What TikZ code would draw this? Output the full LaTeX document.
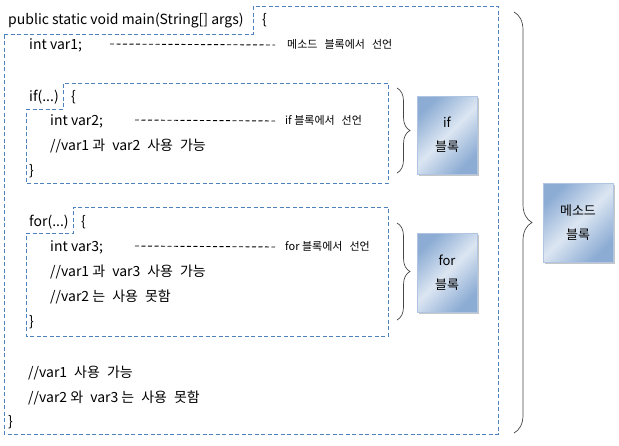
\documentclass[tikz,border=0pt]{standalone}
\usepackage{fontspec}
\setmainfont{Noto Sans CJK KR}
\definecolor{frameblue}{RGB}{79, 129, 189}
\definecolor{blklight}{RGB}{220, 230, 242}
\definecolor{blkdark}{RGB}{140, 172, 212}
\definecolor{bracegray}{RGB}{70, 70, 70}
\usetikzlibrary{shadows, decorations.pathreplacing, calc}
\newcommand{\wsp}{\hspace{7pt}}

\begin{document}
\begin{tikzpicture}[x=1pt, y=-1pt,
  code/.style={anchor=west, inner sep=0pt, font=\fontsize{14}{16}\selectfont, text height=11pt, text depth=3pt},
  decl/.style={anchor=west, inner sep=0pt, font=\fontsize{11}{13}\selectfont, text height=9pt, text depth=2pt},
  frame/.style={draw=frameblue, line width=0.9pt, dash pattern=on 4pt off 2.5pt},
  leader/.style={draw=black, line width=0.9pt, dash pattern=on 4pt off 2.5pt},
  blk/.style={draw=blkdark!70, align=center, font=\fontsize{13}{15}\selectfont,
    left color=blkdark, right color=blkdark, middle color=blklight, shading angle=45,
    drop shadow={shadow xshift=2pt, shadow yshift=-2pt, opacity=0.45}},
  brc/.style={draw=bracegray, line width=0.7pt, decorate, decoration={brace, amplitude=#1}}
]
  \useasboundingbox (0,0) rectangle (619,445);

  % dashed block frames
  \draw[frame] (4,34) -- (253,34) -- (253,6) -- (498,6) -- (498,434) -- (4,434) -- cycle;
  \draw[frame] (26,109) -- (63,109) -- (63,83) -- (388,83) -- (388,183) -- (26,183) -- cycle;
  \draw[frame] (26,233) -- (73,233) -- (73,207) -- (388,207) -- (388,336) -- (26,336) -- cycle;

  % method block
  \node[code] (main) at (8,20) {public static void main(String[] args)};
  \node[code] (mopen) at (262,20) {\{};
  \node[code] (var1) at (29,45) {int var1;};
  \node[decl] (decl1) at (287,45) {메소드\wsp 블록에서\wsp 선언};
  \coordinate (lead1) at (110,44);
  \draw[leader] (lead1) -- ([xshift=-12pt]decl1.west);

  % if block
  \node[code] (ifhead) at (29,97) {if(...)};
  \node[code] (ifopen) at (71,97) {\{};
  \node[code] (var2) at (50,121) {int var2;};
  \node[decl] (decl2) at (285,121) {if 블록에서\wsp 선언};
  \coordinate (lead2) at (135,120);
  \draw[leader] (lead2) -- ([xshift=-10pt]decl2.west);
  \node[code] (ifuse) at (50,146) {//var1 과\wsp var2\wsp 사용\wsp 가능};
  \node[code] (ifclose) at (29,171) {\}};

  % for block
  \node[code] (forhead) at (29,222) {for(...)};
  \node[code] (foropen) at (81,222) {\{};
  \node[code] (var3) at (50,247) {int var3;};
  \node[decl] (decl3) at (285,247) {for 블록에서\wsp 선언};
  \coordinate (lead3) at (135,246);
  \draw[leader] (lead3) -- ([xshift=-10pt]decl3.west);
  \node[code] (foruse) at (50,272) {//var1 과\wsp var3\wsp 사용\wsp 가능};
  \node[code] (fornot) at (50,297) {//var2 는\wsp 사용\wsp 못함};
  \node[code] (forclose) at (29,322) {\}};

  \node[code] (mainuse) at (28,373) {//var1\wsp 사용\wsp 가능};
  \node[code] (mainnot) at (28,398) {//var2 와\wsp var3 는\wsp 사용\wsp 못함};
  \node[code] (mclose) at (8,422) {\}};

  % braces and block labels
  \coordinate (iftop) at (397,88);
  \coordinate (ifbot) at (397,173);
  \coordinate (fortop) at (397,223);
  \coordinate (forbot) at (397,320);
  \coordinate (mtop) at (514,12);
  \coordinate (mbot) at (514,433);
  \draw[brc=13pt] (iftop) -- (ifbot);
  \draw[brc=13pt] (fortop) -- (forbot);
  \draw[brc=18pt] (mtop) -- (mbot);

  \node[blk, minimum width=60pt, minimum height=78pt] (ifblk) at (447,135) {if\\[9pt]블록};
  \node[blk, minimum width=60pt, minimum height=79pt] (forblk) at (447,272.5) {for\\[9pt]블록};
  \node[blk, minimum width=70pt, minimum height=79pt] (mblk) at (578,222.5) {메소드\\[9pt]블록};
\end{tikzpicture}
\end{document}
